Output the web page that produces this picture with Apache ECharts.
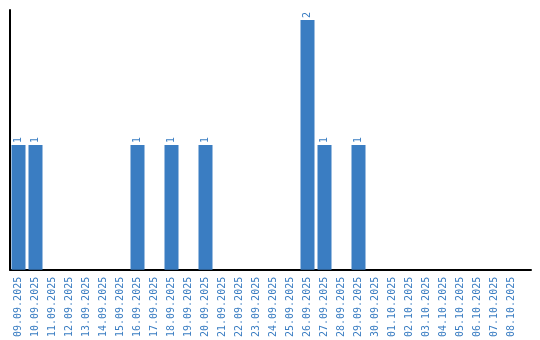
<!DOCTYPE html>
<html><head><meta charset="utf-8">
<script src="https://cdn.jsdelivr.net/npm/echarts@6/dist/echarts.min.js"></script>
<style>html,body{margin:0;padding:0;background:#fff}#c{width:540px;height:340px}</style>
</head><body><div id="c"></div>
<script>
const categories = ["09.09.2025","10.09.2025","11.09.2025","12.09.2025","13.09.2025","14.09.2025","15.09.2025","16.09.2025","17.09.2025","18.09.2025","19.09.2025","20.09.2025","21.09.2025","22.09.2025","23.09.2025","24.09.2025","25.09.2025","26.09.2025","27.09.2025","28.09.2025","29.09.2025","30.09.2025","01.10.2025","02.10.2025","03.10.2025","04.10.2025","05.10.2025","06.10.2025","07.10.2025","08.10.2025"];
const values = [1,1,0,0,0,0,0,1,0,1,0,1,0,0,0,0,0,2,1,0,1,0,0,0,0,0,0,0,0,0];
const blue = '#3a7dc2';
const chart = echarts.init(document.getElementById('c'));
chart.setOption({
  animation: false,
  grid: [
    {left: 10, top: 10, width: 510, height: 260},
    {left: 10, top: 10, width: 521, height: 260}
  ],
  xAxis: [
    {type: 'category', data: categories, gridIndex: 0,
     axisLine: {show: false}, axisTick: {show: false},
     axisLabel: {rotate: 90, interval: 0, color: blue, fontFamily: 'DejaVu Sans Mono', fontSize: 10, margin: 7}},
    {type: 'value', gridIndex: 1, min: 0, max: 1,
     axisLine: {show: true, onZero: false, lineStyle: {color: '#000', width: 2}},
     axisTick: {show: false}, axisLabel: {show: false}, splitLine: {show: false}}
  ],
  yAxis: [
    {type: 'value', gridIndex: 0, min: 0, max: 2.08,
     axisLine: {show: true, lineStyle: {color: '#000', width: 2}},
     axisTick: {show: false}, axisLabel: {show: false}, splitLine: {show: false}},
    {type: 'value', gridIndex: 1, min: 0, max: 1, show: false}
  ],
  series: [{
    type: 'bar', data: values.map(v => v === 0 ? null : v), barWidth: 14,
    itemStyle: {color: blue},
    label: {show: true, position: 'top', rotate: 90, align: 'left', verticalAlign: 'middle', distance: 2,
            color: blue, fontFamily: 'DejaVu Sans Mono', fontSize: 10}
  }]
});
</script></body></html>
